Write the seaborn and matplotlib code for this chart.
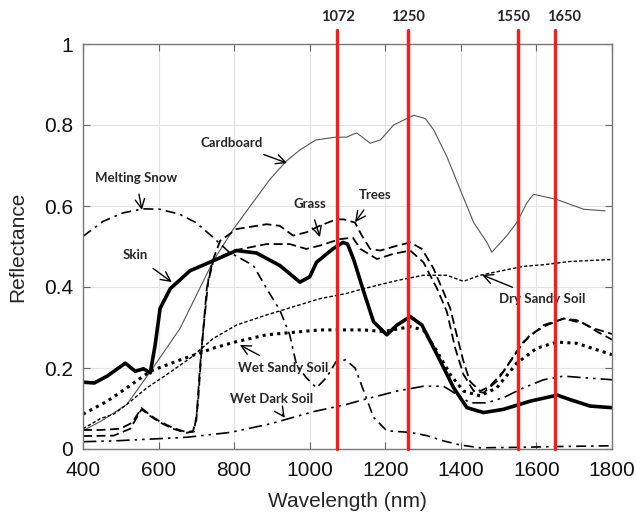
import matplotlib
matplotlib.use("Agg")
import matplotlib.pyplot as plt
import seaborn as sns
import numpy as np
import pandas as pd

# ---------------- data ----------------
skin_wl = [400, 430, 464, 512, 538, 560, 578, 591, 604, 631, 683, 745, 806, 859, 921, 974, 1000,
           1018, 1061, 1088, 1100, 1116, 1143, 1169, 1204, 1231, 1266, 1297, 1337, 1381, 1416,
           1460, 1513, 1583, 1655, 1689, 1742, 1800]
skin_r = [0.165, 0.163, 0.18, 0.212, 0.192, 0.198, 0.188, 0.257, 0.347, 0.396, 0.44, 0.465, 0.49,
          0.484, 0.453, 0.412, 0.425, 0.461, 0.494, 0.51, 0.506, 0.469, 0.388, 0.314, 0.282, 0.306,
          0.327, 0.306, 0.233, 0.151, 0.102, 0.09, 0.098, 0.118, 0.133, 0.122, 0.106, 0.102]

card_wl = [400, 450, 516, 582, 657, 745, 798, 894, 937, 975, 1016, 1068, 1098, 1117, 1125, 1138,
           1160, 1187, 1222, 1275, 1306, 1328, 1363, 1398, 1434, 1469, 1482, 1522, 1548, 1575,
           1592, 1654, 1725, 1782]
card_r = [0.045, 0.07, 0.11, 0.196, 0.298, 0.465, 0.543, 0.665, 0.71, 0.739, 0.763, 0.77, 0.77,
          0.778, 0.78, 0.771, 0.755, 0.763, 0.8, 0.824, 0.816, 0.788, 0.722, 0.641, 0.559, 0.51,
          0.486, 0.527, 0.559, 0.608, 0.629, 0.616, 0.592, 0.588]

snow_wl = [400, 453, 506, 559, 603, 655, 699, 739, 787, 851, 886, 921, 947, 965, 991, 1018, 1044,
           1070, 1095, 1120, 1143, 1169, 1204, 1266, 1310, 1354, 1398, 1450, 1550, 1650, 1800]
snow_r = [0.525, 0.562, 0.583, 0.593, 0.592, 0.58, 0.559, 0.527, 0.486, 0.453, 0.396, 0.343,
          0.282, 0.208, 0.176, 0.151, 0.176, 0.216, 0.22, 0.2, 0.143, 0.078, 0.045, 0.041, 0.033,
          0.02, 0.01, 0.003, 0.004, 0.006, 0.008]

trees_wl = [400, 446, 499, 530, 555, 577, 603, 638, 673, 691, 700, 709, 719, 732, 745, 763, 806,
            886, 921, 956, 991, 1026, 1070, 1090, 1120, 1138, 1160, 1187, 1231, 1266, 1297, 1328,
            1354, 1372, 1389, 1407, 1424, 1451, 1477, 1513, 1548, 1583, 1628, 1672, 1707, 1751,
            1800]
trees_r = [0.047, 0.047, 0.05, 0.065, 0.101, 0.084, 0.068, 0.052, 0.042, 0.044, 0.072, 0.195,
           0.3, 0.42, 0.47, 0.514, 0.543, 0.555, 0.551, 0.527, 0.535, 0.551, 0.567, 0.567, 0.559,
           0.527, 0.494, 0.49, 0.502, 0.51, 0.494, 0.445, 0.388, 0.347, 0.282, 0.216, 0.167,
           0.143, 0.155, 0.192, 0.241, 0.282, 0.306, 0.322, 0.318, 0.298, 0.284]

grass_wl = [400, 481, 525, 555, 577, 603, 638, 673, 694, 704, 715, 728, 745, 798, 886, 947, 991,
            1026, 1079, 1114, 1134, 1178, 1222, 1266, 1301, 1337, 1363, 1385, 1407, 1434, 1460,
            1495, 1531, 1566, 1619, 1672, 1725, 1760, 1800]
grass_r = [0.032, 0.033, 0.05, 0.098, 0.082, 0.066, 0.05, 0.04, 0.043, 0.11, 0.26, 0.4, 0.465,
           0.49, 0.506, 0.506, 0.494, 0.502, 0.518, 0.522, 0.494, 0.469, 0.482, 0.49, 0.461,
           0.396, 0.339, 0.249, 0.184, 0.143, 0.139, 0.167, 0.216, 0.265, 0.306, 0.322, 0.31,
           0.29, 0.27]

dry_wl = [400, 446, 481, 516, 569, 622, 683, 745, 806, 886, 956, 1026, 1097, 1143, 1231, 1301,
          1363, 1407, 1451, 1513, 1566, 1619, 1689, 1800]
dry_r = [0.05, 0.075, 0.086, 0.11, 0.151, 0.184, 0.224, 0.273, 0.306, 0.331, 0.351, 0.371, 0.384,
         0.396, 0.416, 0.429, 0.429, 0.414, 0.429, 0.441, 0.451, 0.455, 0.463, 0.468]

wsand_wl = [400, 464, 516, 578, 657, 745, 806, 886, 956, 1026, 1097, 1143, 1195, 1266, 1301, 1337,
            1372, 1407, 1451, 1495, 1548, 1601, 1654, 1707, 1760, 1800]
wsand_r = [0.086, 0.118, 0.151, 0.192, 0.22, 0.249, 0.265, 0.282, 0.288, 0.294, 0.294, 0.294,
           0.29, 0.302, 0.294, 0.241, 0.184, 0.143, 0.131, 0.151, 0.212, 0.249, 0.264, 0.261,
           0.245, 0.233]

wdark_wl = [400, 481, 569, 675, 790, 895, 1009, 1097, 1143, 1231, 1301, 1354, 1389, 1424, 1469,
            1513, 1566, 1619, 1672, 1725, 1800]
wdark_r = [0.018, 0.02, 0.024, 0.029, 0.041, 0.062, 0.092, 0.11, 0.122, 0.143, 0.155, 0.155,
           0.135, 0.114, 0.114, 0.127, 0.151, 0.171, 0.18, 0.176, 0.171]

marker_wl = [1072, 1260, 1550, 1650]
marker_labels = ["1072", "1250", "1550", "1650"]
marker_label_x = [1074, 1260, 1537, 1674]

x_ticks = [400, 600, 800, 1000, 1200, 1400, 1600, 1800]
y_ticks = [0, 0.2, 0.4, 0.6, 0.8, 1.0]
y_ticklabels = ["0", "0.2", "0.4", "0.6", "0.8", "1"]

# annotations: (text, text_x, text_y, tip_x, tip_y)
ann_text = ["Cardboard", "Melting Snow", "Grass", "Trees", "Skin", "Dry Sandy Soil",
            "Wet Sandy Soil", "Wet Dark Soil"]
ann_txy = [(794, 0.756), (540, 0.669), (1000, 0.605), (1172, 0.627), (537, 0.479),
           (1614, 0.370), (929, 0.200), (900, 0.123)]
ann_tip = [(940, 0.706), (556, 0.590), (1027, 0.523), (1120, 0.560), (635, 0.412),
           (1456, 0.430), (815, 0.257), (934, 0.077)]

# ---------------- plotting ----------------
sns.set_theme(style="whitegrid")
plt.rcParams['font.family'] = ['Liberation Sans', 'DejaVu Sans']

fig = plt.figure(figsize=(6.36, 5.12), dpi=100)
ax = fig.add_axes([83/636, 63/512, 529/636, 405/512])

series = [
    (card_wl, card_r, dict(color="#555555", lw=0.8, linestyle="-")),
    (snow_wl, snow_r, dict(color="black", lw=1.2, linestyle=(0, (6, 3, 1.5, 3)))),
    (trees_wl, trees_r, dict(color="black", lw=1.3, linestyle=(0, (5, 2.5)))),
    (grass_wl, grass_r, dict(color="black", lw=1.3, linestyle=(0, (5, 2.5)))),
    (dry_wl, dry_r, dict(color="black", lw=1.0, linestyle=(0, (2.5, 1.5)))),
    (wsand_wl, wsand_r, dict(color="black", lw=2.2, linestyle=(0, (1, 1.4)))),
    (wdark_wl, wdark_r, dict(color="black", lw=1.2, linestyle=(0, (8, 3, 1.5, 3, 1.5, 3)))),
    (skin_wl, skin_r, dict(color="black", lw=2.6, linestyle="-")),
]
for xs, ys, kw in series:
    df = pd.DataFrame({"wl": xs, "r": ys})
    sns.lineplot(data=df, x="wl", y="r", ax=ax, sort=False, **kw)

for wl, lx, lab in zip(marker_wl, marker_label_x, marker_labels):
    ax.plot([wl, wl], [0, 1.035], color="#ff1a1a", lw=2.4, clip_on=False, zorder=5)
    ax.text(lx, 1.066, lab, ha="center", va="center", fontsize=10.5, fontweight="bold",
            family=["Lato", "DejaVu Sans"], clip_on=False)

for t, (tx, ty), (px, py) in zip(ann_text, ann_txy, ann_tip):
    ax.annotate(t, xy=(px, py), xytext=(tx, ty), ha="center", va="center",
                fontsize=9.5, fontweight="bold", family=["Lato", "DejaVu Sans"],
                arrowprops=dict(arrowstyle="->", color="black", lw=1.0,
                                shrinkA=5, shrinkB=0, mutation_scale=17))

ax.set_xlim(400, 1800)
ax.set_ylim(0, 1)
ax.set_xticks(x_ticks)
ax.set_yticks(y_ticks)
ax.set_yticklabels(y_ticklabels)
ax.set_xlabel("Wavelength (nm)", fontsize=15, labelpad=8)
ax.set_ylabel("Reflectance", fontsize=15, labelpad=12)
ax.tick_params(axis="both", which="both", direction="in", length=5, width=0.8,
               colors="#666666", labelcolor="#111111", labelsize=15, top=True, right=True,
               left=True, bottom=True)
ax.tick_params(axis="x", pad=9)
ax.tick_params(axis="y", pad=7)
ax.grid(True, color="#e3e3e3", lw=0.8)
ax.set_facecolor("white")
for s in ax.spines.values():
    s.set_color("#777777")
    s.set_linewidth(1.0)
    s.set_visible(True)

fig.savefig("out.png", dpi=100, facecolor="white")
